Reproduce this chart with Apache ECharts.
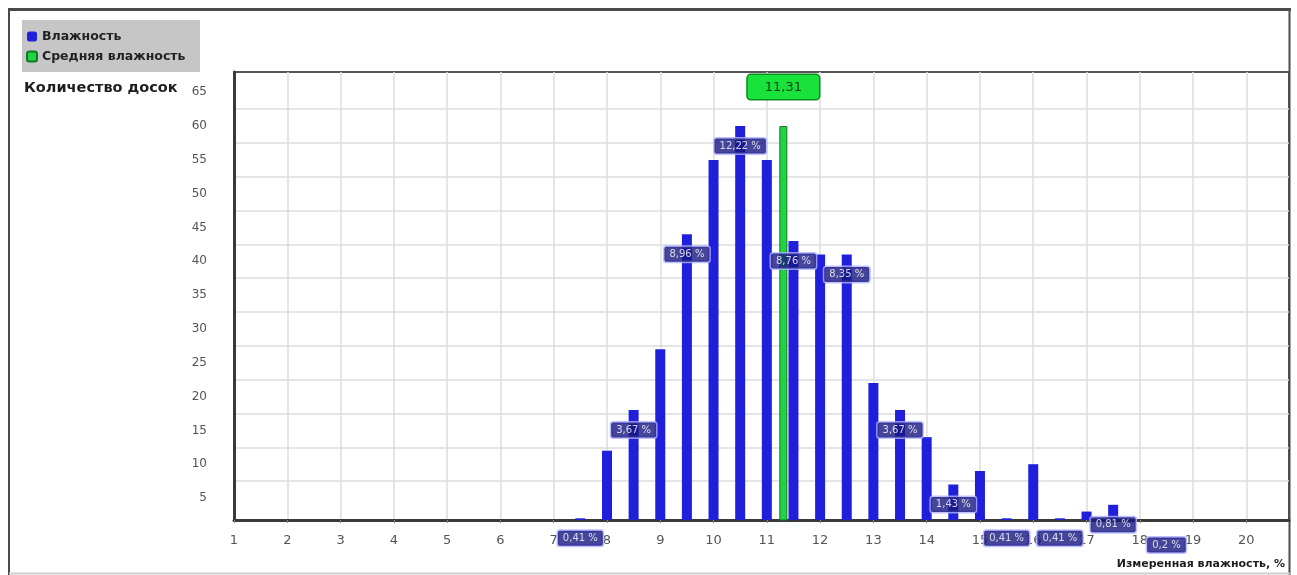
<!DOCTYPE html>
<html><head><meta charset="utf-8">
<script src="https://cdn.jsdelivr.net/npm/echarts@6/dist/echarts.min.js"></script>
<style>html,body{margin:0;padding:0;background:#fff}#c{width:1297px;height:575px}</style>
</head><body><div id="c"></div>
<script>
// ---- data ----
const seriesNames = ['Влажность', 'Средняя влажность'];
const moisture = [7.5, 8, 8.5, 9, 9.5, 10, 10.5, 11, 11.5, 12, 12.5, 13, 13.5, 14, 14.5, 15, 15.5, 16, 16.5, 17, 17.5, 18.5];
const boards   = [2, 12, 18, 27, 44, 55, 60, 55, 43, 41, 41, 22, 18, 14, 7, 9, 2, 10, 2, 3, 4, 1];
const pctX      = [7.5, 8.5, 9.5, 10.5, 11.5, 12.5, 13.5, 14.5, 15.5, 16.5, 17.5, 18.5];
const pctLabels = ['0,41 %', '3,67 %', '8,96 %', '12,22 %', '8,76 %', '8,35 %', '3,67 %', '1,43 %', '0,41 %', '0,41 %', '0,81 %', '0,2 %'];
const meanMoisture = 11.31;
const meanLabel = '11,31';
const meanBarHeight = 60;
const xTickLabels = [1, 2, 3, 4, 5, 6, 7, 8, 9, 10, 11, 12, 13, 14, 15, 16, 17, 18, 19, 20];
const yTickLabels = [5, 10, 15, 20, 25, 30, 35, 40, 45, 50, 55, 60, 65];
const yGridValues = [7.5, 12.5, 17.5, 22.5, 27.5, 32.5, 37.5, 42.5, 47.5, 52.5, 57.5, 62.5];
const yAxisTitle = 'Количество досок';
const xAxisTitle = 'Измеренная влажность, %';

// ---- chart ----
const FONT = 'DejaVu Sans';
const blue = '#2020dc';
const green = '#22d443';
const chart = echarts.init(document.getElementById('c'), null, {renderer: 'canvas'});

const barData = moisture.map((x, i) => [x, boards[i]]);
const pctData = pctX.map((x, i) => {
  const idx = moisture.indexOf(x);
  return {value: [x, boards[idx]], label: {formatter: pctLabels[i]}};
});

const xAxisBase = {
  type: 'value', min: 1, max: 20.8,
  axisLine: {show: false}, axisTick: {show: false}, splitLine: {show: false}, axisLabel: {show: false}
};

chart.setOption({
  animation: false,
  textStyle: {fontFamily: FONT},
  graphic: [
    {type: 'rect', z: -10, shape: {x: 22, y: 20, width: 178, height: 52}, style: {fill: '#c6c6c6'}},
    {type: 'line', shape: {x1: 8, y1: 9.5, x2: 1291, y2: 9.5}, style: {stroke: '#4a4a4a', lineWidth: 3}},
    {type: 'line', shape: {x1: 9, y1: 9, x2: 9, y2: 575}, style: {stroke: '#4a4a4a', lineWidth: 2}},
    {type: 'line', shape: {x1: 1289.5, y1: 9, x2: 1289.5, y2: 575}, style: {stroke: '#4a4a4a', lineWidth: 2}},
    {type: 'line', shape: {x1: 9, y1: 573.5, x2: 1290, y2: 573.5}, style: {stroke: '#cfcfcf', lineWidth: 2}},
    {type: 'text', left: 24, top: 81, style: {text: yAxisTitle, font: 'bold 14.5px "DejaVu Sans"', fill: '#1e1e1e'}},
    {type: 'text', right: 12, top: 559, style: {text: xAxisTitle, font: 'bold 11px "DejaVu Sans"', fill: '#1e1e1e'}}
  ],
  legend: {
    left: 26, top: 30, orient: 'vertical', itemWidth: 10, itemHeight: 10, itemGap: 7,
    icon: 'roundRect', padding: 0,
    textStyle: {fontFamily: FONT, fontSize: 12.5, fontWeight: 'bold', color: '#222'},
    data: seriesNames
  },
  grid: {left: 234, right: 8, top: 72, bottom: 55, show: true, borderColor: '#555', borderWidth: 2, backgroundColor: '#fff'},
  xAxis: [
    {
      type: 'value', min: 1, max: 20.8,
      axisLine: {show: true, onZero: false, lineStyle: {color: '#3a3a3a', width: 3}},
      axisTick: {show: true, length: 3, inside: false, customValues: xTickLabels, lineStyle: {color: '#888'}},
      axisLabel: {customValues: xTickLabels, color: '#555', fontSize: 13, margin: 14, fontFamily: FONT},
      splitLine: {show: true, lineStyle: {color: '#dcdcdc', width: 1.5}}
    },
    Object.assign({}, xAxisBase, {show: false})
  ],
  yAxis: {
    type: 'value', min: 1.75, max: 68,
    axisLine: {show: true, lineStyle: {color: '#3a3a3a', width: 3}},
    axisTick: {show: false, customValues: yGridValues},
    axisLabel: {customValues: yTickLabels, color: '#555', fontSize: 12, margin: 27, fontFamily: FONT},
    splitLine: {show: true, lineStyle: {color: '#dcdcdc', width: 1.5}}
  },
  series: [
    {
      name: seriesNames[0], type: 'bar', xAxisIndex: 0, barWidth: 10,
      itemStyle: {color: blue}, data: barData, z: 2
    },
    {
      name: seriesNames[1], type: 'bar', xAxisIndex: 1, barWidth: 8,
      itemStyle: {color: green, borderColor: '#0b7a22', borderWidth: 1},
      data: [[meanMoisture, meanBarHeight]], z: 3,
      label: {
        show: true, position: 'top', distance: 27, formatter: meanLabel,
        backgroundColor: '#19e23d', borderColor: '#0c8a22', borderWidth: 1.5, borderRadius: 3,
        color: '#163a16', fontSize: 13, fontFamily: FONT, padding: [6, 17, 5, 17]
      }
    },
    {
      name: 'pct', type: 'scatter', xAxisIndex: 0, clip: false, symbolSize: 1, z: 5,
      itemStyle: {color: 'rgba(0,0,0,0)'}, legendHoverLink: false, silent: true,
      data: pctData,
      label: {
        show: true, position: 'inside', offset: [0, 20],
        backgroundColor: '#16167f', borderColor: '#b0b0ff', borderWidth: 1.5, borderRadius: 2,
        color: '#fff', fontSize: 10, fontFamily: FONT, padding: [3, 5, 2, 5]
      }
    }
  ]
});
</script></body></html>
